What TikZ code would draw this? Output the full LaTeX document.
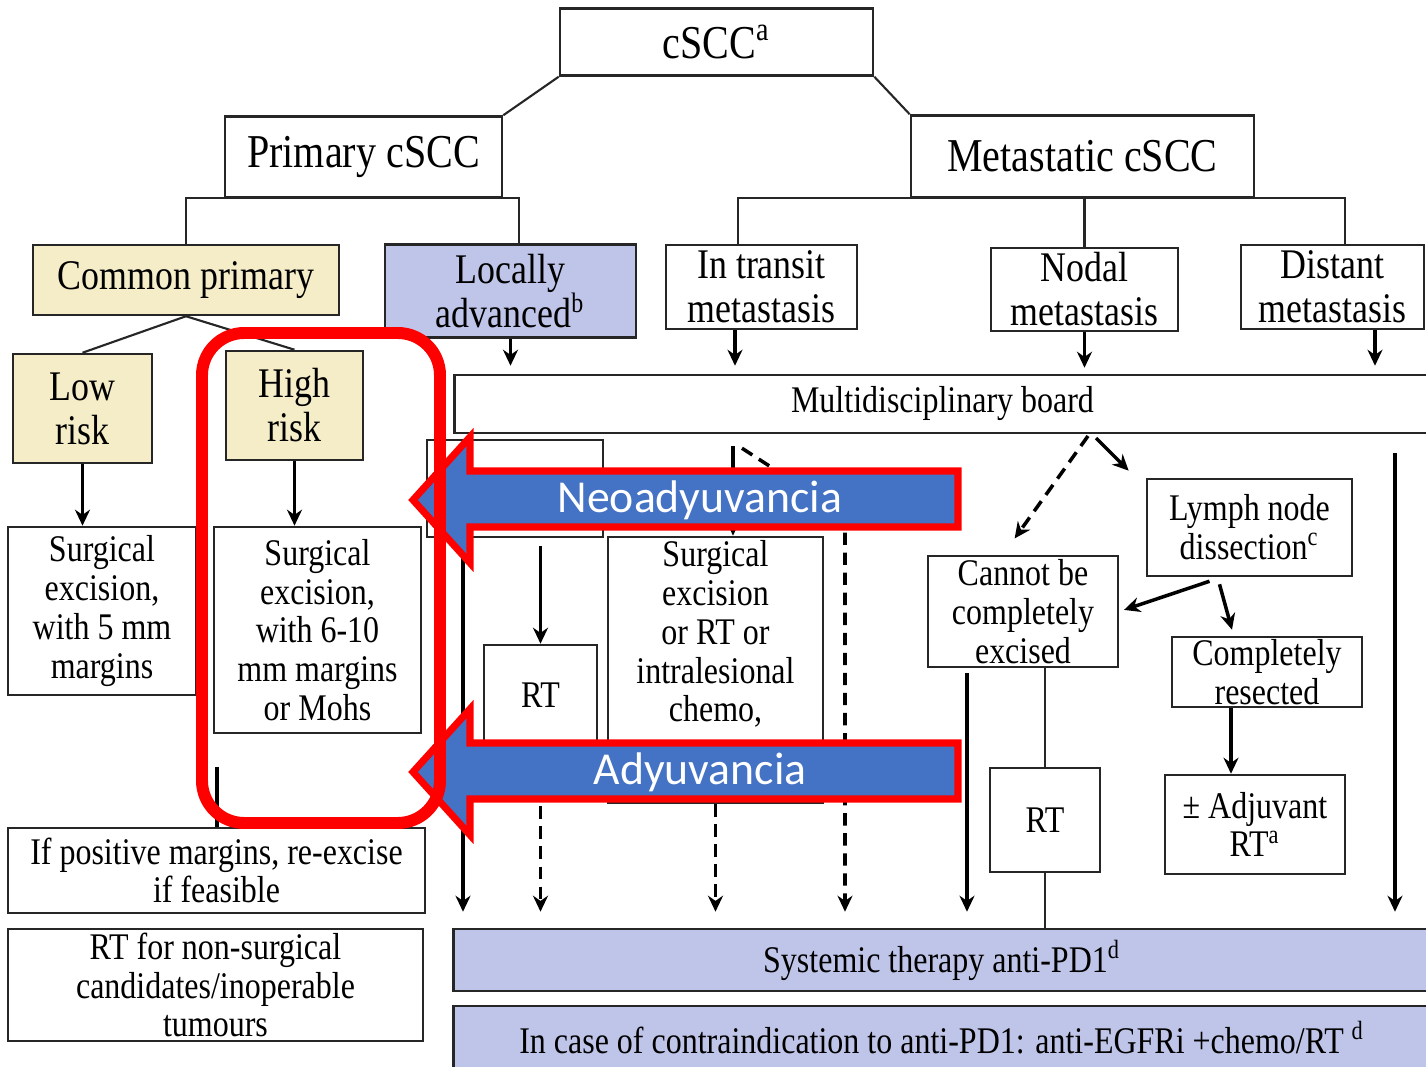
\documentclass[tikz,border=0pt]{standalone}
\usepackage{fontspec}
\setmainfont{Liberation Serif}[FakeStretch=0.85]
\newfontfamily\labelfont{Carlito}
\usetikzlibrary{calc, arrows.meta}

\definecolor{beige}{RGB}{245,237,200}
\definecolor{lav}{RGB}{191,197,232}
\definecolor{arrblue}{RGB}{68,114,196}

\newcommand{\bodyfont}{\fontsize{10.7}{11.05}\selectfont}
\newcommand{\headfont}{\fontsize{12}{12.5}\selectfont}
\newcommand{\titlefont}{\fontsize{13.4}{14}\selectfont}

\tikzset{
  box/.style={draw=black!85, line width=0.7pt, inner sep=0pt, align=center, font=\bodyfont},
  head/.style={box, font=\headfont},
  title/.style={box, font=\titlefont},
  link/.style={line width=0.6pt, black!85},
  arr/.style={-{Stealth[length=1.6mm, width=1.5mm]}, line width=1pt},
  darr/.style={arr, dash pattern=on 3.5pt off 2.2pt},
  blockarrow/.style={draw=red, line width=2pt, fill=arrblue, line join=miter},
  arrlabel/.style={font=\labelfont\fontsize{13}{15}\selectfont, text=white, inner sep=0pt},
}

\begin{document}
\begin{tikzpicture}[x=0.01cm, y=-0.01cm]
\useasboundingbox (0,0) rectangle (1426,1067);
\clip (0,0) rectangle (1426,1067);

% top level
\node[title, minimum width=3.13cm, minimum height=0.67cm] (cscc) at (716.5,42) {cSCC\textsuperscript{a}};
\node[title, minimum width=2.77cm, minimum height=0.81cm] (prim) at (363.5,157) {Primary cSCC};
\node[title, minimum width=3.43cm, minimum height=0.82cm] (meta) at (1082.5,156.5) {Metastatic cSCC};

% second level
\node[head, fill=beige, minimum width=3.06cm, minimum height=0.70cm] (common) at (186,280) {Common primary};
\node[head, fill=lav, minimum width=2.51cm, minimum height=0.93cm] (locadv) at (510.5,291) {Locally\\advanced\textsuperscript{b}};
\node[head, minimum width=1.91cm, minimum height=0.84cm] (intr) at (761.5,287) {In transit\\metastasis};
\node[head, minimum width=1.87cm, minimum height=0.83cm] (nodal) at (1084.5,289.5) {Nodal\\metastasis};
\node[head, minimum width=1.83cm, minimum height=0.84cm] (dist) at (1332.5,287) {Distant\\metastasis};

% primary branch
\node[head, fill=beige, minimum width=1.39cm, minimum height=1.09cm] (low) at (82.5,408.5) {Low\\risk};
\node[head, fill=beige, minimum width=1.37cm, minimum height=1.09cm] (high) at (294.5,405.5) {High\\risk};
\node[box, minimum width=1.88cm, minimum height=1.68cm] (surglow) at (102,611) {Surgical\\excision,\\with 5 mm\\margins};
\node[box, minimum width=2.07cm, minimum height=2.06cm] (surghigh) at (317.5,630) {Surgical\\excision,\\with 6-10\\mm margins\\or Mohs};
\node[box, minimum width=4.17cm, minimum height=0.85cm] (positive) at (216.5,870.5) {If positive margins, re-excise\\if feasible};
\node[box, minimum width=4.15cm, minimum height=1.12cm] (nonsurg) at (215.5,985) {RT for non-surgical\\candidates/inoperable\\tumours};

% board and treatments
\node[box, minimum width=9.75cm, minimum height=0.58cm] (board) at (942.5,404) {Multidisciplinary board};
\node[box, minimum width=1.76cm, minimum height=0.97cm] (hidbox) at (515,488.5) {};
\node[box, minimum width=1.13cm, minimum height=1.00cm] (rtleft) at (540.5,695) {RT};
\node[box, minimum width=2.15cm, minimum height=2.66cm] (surgmid) at (715.5,670) {Surgical\\excision\\or RT or\\intralesional\\chemo,\\\mbox{}\\\mbox{}};
\node[box, minimum width=2.05cm, minimum height=0.97cm] (lymph) at (1249.5,527.5) {Lymph node\\dissection\textsuperscript{c}};
\node[box, minimum width=1.90cm, minimum height=1.11cm] (cannot) at (1023,611.5) {Cannot be\\completely\\excised};
\node[box, minimum width=1.90cm, minimum height=0.70cm] (resect) at (1267,672) {Completely\\resected};
\node[box, minimum width=1.10cm, minimum height=1.04cm] (rtright) at (1045,820) {RT};
\node[box, minimum width=1.80cm, minimum height=0.99cm] (adjrt) at (1255,824.5) {± Adjuvant\\RT\textsuperscript{a}};
\node[box, fill=lav, minimum width=9.76cm, minimum height=0.62cm] (systemic) at (942,960) {Systemic therapy anti-PD1\textsuperscript{d}};
\node[box, fill=lav, minimum width=9.76cm, minimum height=0.64cm] (contra) at (942,1038) {In case of contraindication to anti-PD1: anti-EGFRi +chemo/RT \textsuperscript{d}};

% tree links
\draw[link] (cscc.south west) -- (prim.north east);
\draw[link] (cscc.south east) -- (meta.north west);
\coordinate (pbar) at (519,198);
\draw[link] (common.north) |- (pbar) -- (pbar |- locadv.north);
\coordinate (mbar) at (1345,198);
\coordinate (mleft) at ($(intr.north)+(-23.5,0)$);
\draw[link] (mleft) |- (mbar) -- (mbar |- dist.north);
\draw[link] (nodal.north) -- (nodal.north |- mbar);
\draw[link] (common.south) -- (low.north);
\draw[link] (common.south) -- (high.north);

% primary arrows
\draw[arr] (low.south) -- (low.south |- surglow.north);
\draw[arr] (high.south) -- (high.south |- surghigh.north);
\coordinate (stub) at (217,767);
\draw[line width=1pt] (stub) -- (stub |- positive.north);

% into the board
\draw[arr, shorten >=0.8mm] (locadv.south) -- (locadv.south |- board.north);
\coordinate (itx) at ($(intr.south)+(-26.5,0)$);
\draw[arr, shorten >=0.8mm] (itx) -- (itx |- board.north);
\draw[arr, shorten >=0.6mm] (nodal.south) -- (nodal.south |- board.north);
\coordinate (dsx) at ($(dist.south)+(42.5,0)$);
\draw[arr, shorten >=0.8mm] (dsx) -- (dsx |- board.north);

% left column
\coordinate (h1) at ($(hidbox.south)+(-52,0)$);
\draw[arr, shorten >=1.6mm] (h1) -- (h1 |- systemic.north);
\draw[arr, shorten <=0.8mm] (rtleft.north |- hidbox.south) -- (rtleft.north);
\draw[darr, shorten >=1.6mm] (rtleft.south) -- (rtleft.south |- systemic.north);
\draw[arr, shorten <=1.2mm] ($(board.south)+(-209.5,0)$) -- ($(surgmid.north)+(17.5,0)$);
\draw[darr, shorten >=1.6mm] (surgmid.south) -- (surgmid.south |- systemic.north);
\coordinate (itdash) at (845,515);
\draw[darr, shorten >=1.6mm] ($(board.south)+(-200.5,14)$) -- (itdash) -- (itdash |- systemic.north);

% nodal column
\coordinate (nd) at (1088,436);
\draw[darr, shorten >=2mm] (nd) -- ($(cannot.north)+(-20,0)$);
\draw[arr, shorten <=0.3mm, shorten >=1mm] ($(nd)+(6,0)$) -- ($(lymph.north west)+(-10,0)$);
\draw[arr, shorten >=0.5mm] ($(lymph.south)+(-40,4)$) -- (cannot.east);
\draw[arr] ($(lymph.south)+(-30,7)$) -- ($(resect.north)+(-35,-6)$);
\draw[arr] ($(resect.south)+(-36,0)$) -- ($(adjrt.north)+(-24,0)$);
\coordinate (cx) at ($(cannot.south)+(-56,0)$);
\draw[arr, shorten <=0.5mm, shorten >=1.6mm] (cx) -- (cx |- systemic.north);
\draw[link, line width=0.8pt] ($(cannot.south)+(22,0)$) -- (rtright.north);
\draw[link, line width=0.8pt] (rtright.south) -- (rtright.south |- systemic.north);
\coordinate (rx) at ($(board.south)+(452.5,0)$);
\draw[arr, shorten <=1.9mm, shorten >=1.6mm] (rx) -- (rx |- systemic.north);

% overlay arrows
\draw[blockarrow] (413,500) -- (470,437) -- (470,471) -- (958,471) -- (958,527) -- (470,527) -- (470,563) -- cycle;
\node[arrlabel] (neo) at (700,500) {Neoadyuvancia};
\draw[blockarrow] (413,772) -- (470,709) -- (470,743) -- (958,743) -- (958,799) -- (470,799) -- (470,835) -- cycle;
\node[arrlabel] (ady) at (700,772) {Adyuvancia};

% highlight frame
\draw[red, line width=3.4pt, rounded corners=12pt] (202,333) rectangle (440,823);
\end{tikzpicture}
\end{document}
